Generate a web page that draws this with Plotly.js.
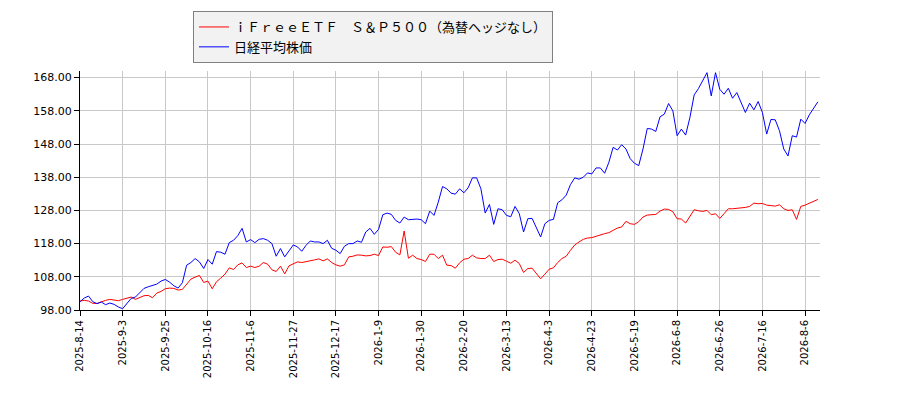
<!DOCTYPE html>
<html>
<head>
<meta charset="utf-8">
<script src="https://cdn.plot.ly/plotly-3.0.1.min.js"></script>
<style>
  html, body { margin: 0; padding: 0; background: #fff; }
  #chart { width: 900px; height: 400px; }
</style>
</head>
<body>
<div id="chart"></div>
<script>
// tick labels, one every 10 points
const tickLabels = [
  "2025-8-14", "2025-9-3", "2025-9-25", "2025-10-16", "2025-11-6", "2025-11-27",
  "2025-12-17", "2026-1-9", "2026-1-30", "2026-2-20", "2026-3-13", "2026-4-3",
  "2026-4-23", "2026-5-19", "2026-6-8", "2026-6-26", "2026-7-16", "2026-8-6"
];

const sp500Name = "ｉＦｒｅｅＥＴＦ　Ｓ＆Ｐ５００（為替ヘッジなし）";
const nikkeiName = "日経平均株価";

const sp500 = [
  100.7, 100.9, 100.7, 100.0, 100.0, 100.5, 100.9, 101.2, 101.0, 100.8,
  101.2, 101.6, 101.9, 101.2, 101.7, 102.3, 102.4, 101.7, 103.1, 103.6,
  104.4, 104.6, 104.5, 104.0, 104.2, 105.8, 107.3, 107.9, 108.4, 106.3,
  106.7, 104.4, 106.5, 107.6, 108.8, 110.7, 110.2, 111.6, 112.2, 110.8,
  111.2, 110.8, 111.2, 112.3, 111.8, 110.1, 109.6, 111.2, 108.9, 111.3,
  111.9, 112.5, 112.3, 112.5, 112.7, 113.1, 113.4, 112.8, 113.4, 112.3,
  111.6, 111.2, 111.6, 114.0, 114.2, 114.6, 114.5, 114.3, 114.4, 114.8,
  114.4, 117.0, 116.9, 117.1, 115.4, 114.6, 121.8, 113.6, 114.5, 113.5,
  113.2, 112.6, 114.8, 114.8, 113.5, 114.5, 111.5, 111.4, 110.6, 112.2,
  113.3, 113.5, 114.5, 113.7, 113.5, 113.5, 114.5, 112.6, 113.2, 113.3,
  112.7, 112.1, 113.0, 112.0, 109.3, 110.5, 110.6, 109.0, 107.4, 108.8,
  110.3, 110.7, 112.3, 113.5, 114.2, 116.0, 117.6, 118.5, 119.3, 119.7,
  119.8, 120.2, 120.7, 121.0, 121.3, 122.0, 122.7, 123.0, 124.7, 124.0,
  123.8, 124.6, 126.0, 126.6, 126.6, 126.8, 127.8, 128.4, 128.3, 127.6,
  125.5, 125.4, 124.2, 126.2, 128.2, 127.9, 127.7, 128.0, 126.7, 127.0,
  125.6, 127.0, 128.5, 128.5, 128.6, 128.9, 128.9, 129.2, 130.2, 130.0,
  130.1, 129.6, 129.5, 129.3, 129.7, 128.5, 128.0, 128.2, 125.3, 129.2,
  129.6, 130.1, 130.7, 131.3
];

const nikkei = [
  100.5, 101.6, 102.2, 100.5, 99.9, 100.4, 99.6, 100.1, 99.7, 98.9,
  98.4, 100.0, 101.5, 101.9, 103.2, 104.5, 105.0, 105.3, 105.8, 106.7,
  107.2, 106.4, 105.3, 104.6, 106.2, 111.5, 112.3, 113.5, 112.5, 110.5,
  113.2, 111.8, 115.6, 115.4, 114.8, 118.3, 119.0, 120.4, 122.6, 118.5,
  119.2, 118.3, 119.3, 119.5, 119.0, 118.0, 114.2, 116.5, 114.0, 115.8,
  117.6, 117.0, 115.7, 117.5, 118.8, 118.5, 118.5, 118.0, 119.0, 116.6,
  116.0, 115.0, 117.2, 118.0, 118.0, 118.8, 118.4, 121.5, 122.6, 120.8,
  122.3, 126.7, 127.2, 126.8, 125.0, 124.2, 126.0, 125.2, 125.4, 125.4,
  125.2, 124.0, 127.8, 126.5, 130.5, 135.2, 134.5, 133.2, 132.9, 134.5,
  133.3, 134.8, 137.8, 137.8, 134.5, 127.2, 129.8, 123.8, 128.5, 128.2,
  126.5, 126.1, 129.2, 127.0, 121.5, 125.5, 125.6, 122.8, 120.0, 124.0,
  125.0, 125.3, 130.3, 131.2, 132.6, 135.8, 137.8, 137.4, 138.0, 139.3,
  139.0, 140.8, 140.8, 139.2, 142.5, 147.0, 146.2, 147.8, 146.5, 143.6,
  142.2, 141.5, 146.5, 152.7, 152.5, 151.8, 156.2, 157.0, 160.2, 158.0,
  150.5, 152.5, 150.7, 156.0, 162.8, 164.7, 167.0, 169.5, 162.5, 169.5,
  164.5, 163.0, 164.8, 161.8, 163.5, 160.7, 157.5, 160.3, 158.3, 160.8,
  157.5, 151.0, 155.4, 155.3, 152.0, 146.5, 144.4, 150.5, 150.1, 155.5,
  154.2, 156.8, 158.8, 160.7
];

const TICK_STEP = 10;

function buildTraces() {
  const xs = sp500.map((_, i) => i);
  return [
    { x: xs, y: sp500, type: "scatter", mode: "lines", name: sp500Name,
      line: { color: "#ff0000", width: 1 } },
    { x: xs, y: nikkei, type: "scatter", mode: "lines", name: nikkeiName,
      line: { color: "#0000ff", width: 1 } },
  ];
}

const layout = {
  width: 900,
  height: 400,
  paper_bgcolor: "#ffffff",
  plot_bgcolor: "#ffffff",
  margin: { l: 80, r: 80, t: 70, b: 90 },
  font: { family: "DejaVu Sans, sans-serif", size: 11, color: "#000" },
  showlegend: true,
  legend: {
    x: 0.1527, y: 1.2458, xanchor: "left", yanchor: "top",
    bgcolor: "#f2f2f2", bordercolor: "#808080", borderwidth: 1,
    font: { family: "Noto Sans CJK JP, sans-serif", size: 13, color: "#000" },
    tracegroupgap: 0,
  },
  xaxis: {
    range: [0, 173.5],
    tickvals: tickLabels.map((_, i) => i * TICK_STEP),
    ticktext: tickLabels,
    tickangle: -90,
    tickfont: { family: "DejaVu Sans, sans-serif", size: 10 },
    showgrid: true, gridcolor: "#c8c8c8", gridwidth: 1,
    showline: true, linecolor: "#000", linewidth: 1,
    ticks: "outside", ticklen: 5, tickcolor: "#000",
    zeroline: false,
  },
  yaxis: {
    range: [98, 170],
    tickvals: [98, 108, 118, 128, 138, 148, 158, 168],
    tickformat: ".2f",
    tickfont: { family: "DejaVu Sans, sans-serif", size: 11 },
    showgrid: true, gridcolor: "#c8c8c8", gridwidth: 1,
    showline: true, linecolor: "#000", linewidth: 1,
    ticks: "outside", ticklen: 5, tickcolor: "#000",
    zeroline: false,
  },
};

Plotly.newPlot("chart", buildTraces(), layout, { displayModeBar: false, staticPlot: true });
</script>
</body>
</html>
